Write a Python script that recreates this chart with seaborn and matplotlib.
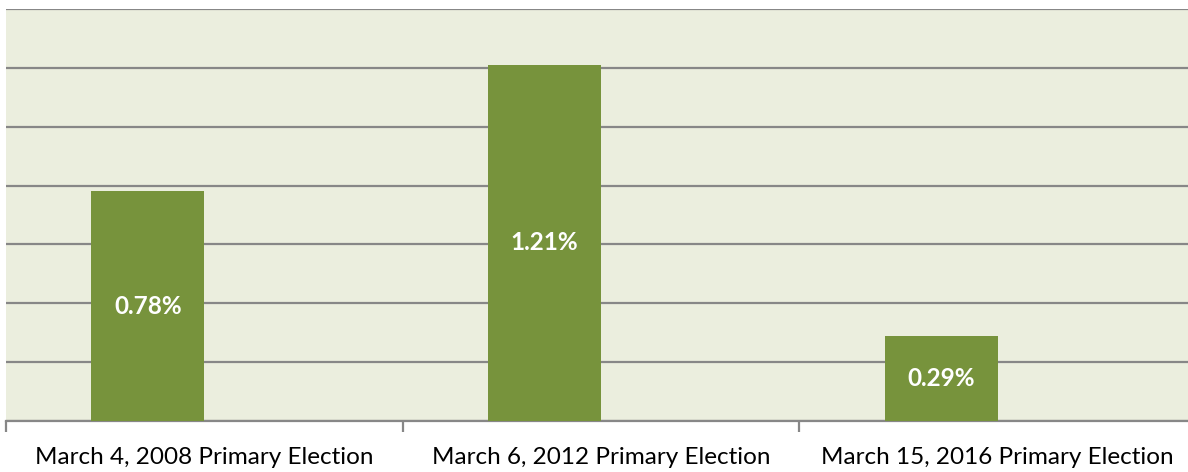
import pandas as pd
import matplotlib
matplotlib.use("Agg")
import matplotlib.pyplot as plt
import seaborn as sns

# dati
elections = ['March 4, 2008 Primary Election',
             'March 6, 2012 Primary Election',
             'March 15, 2016 Primary Election']
turnout = [0.78, 1.21, 0.29]
# seconda serie vuota (sposta le barre a sinistra come nel grafico originale)
empty_series = [0, 0, 0]

df = pd.DataFrame({
    'Election': elections * 2,
    'Value': turnout + empty_series,
    'Series': ['turnout'] * 3 + ['empty'] * 3,
})

sns.set_theme(style="white")
plt.rcParams['font.family'] = ['Lato', 'DejaVu Sans']

fig = plt.figure(figsize=(11.88, 4.72), dpi=100)
ax = fig.add_axes([6 / 1188, 1 - 421 / 472, 1190 / 1188, 412 / 472])
ax.set_facecolor('#EBEEDE')

sns.barplot(data=df, x='Election', y='Value', hue='Series',
            palette={'turnout': '#77933C', 'empty': '#77933C'},
            saturation=1, width=0.57, linewidth=0, legend=False, ax=ax, zorder=3)

ax.set_ylim(0, 1.4)
ax.set_xlim(-0.5, 2.5)
ax.set_yticks([0.2 * i for i in range(8)])
ax.yaxis.grid(True, color='#878787', linewidth=1.6, zorder=0)
ax.set_axisbelow(True)
ax.tick_params(axis='y', left=False, labelleft=False)

# etichette dei valori
bars = ax.containers[0]
ax.bar_label(bars, labels=[f'{v:.2f}%' for v in turnout], label_type='center',
             color='white', fontsize=17.5, fontweight='bold')

for side in ['left', 'right', 'top']:
    ax.spines[side].set_visible(False)
ax.spines['bottom'].set_color('#878787')
ax.spines['bottom'].set_linewidth(1.6)

ax.set_xticks([-0.5, 0.5, 1.5, 2.5], minor=True)
ax.tick_params(axis='x', which='minor', length=8, width=1.6, color='#878787', direction='out', bottom=True)
ax.tick_params(axis='x', which='major', length=0, labelsize=17.5, labelcolor='black', pad=19)
ax.set_xlabel('')
ax.set_ylabel('')

fig.savefig('out.png', dpi=100)
